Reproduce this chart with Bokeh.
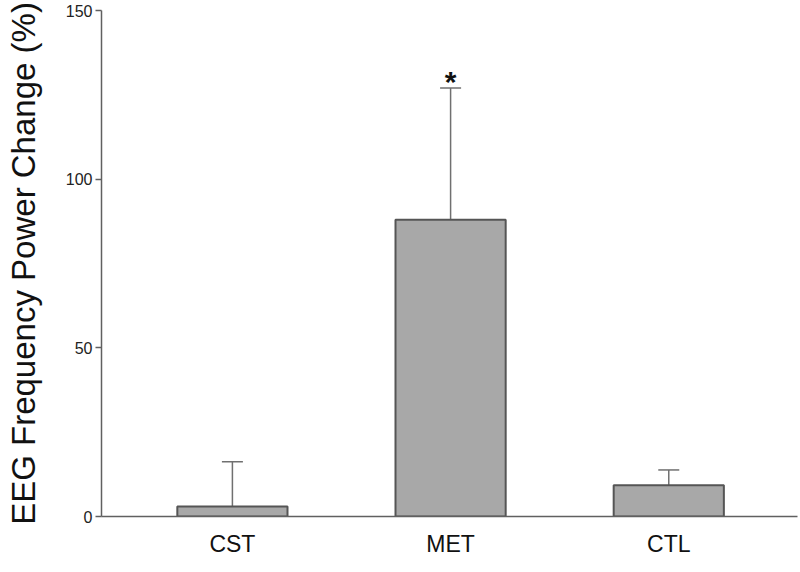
from bokeh.plotting import figure
from bokeh.models import ColumnDataSource, Whisker, TeeHead, FixedTicker, Range1d
from bokeh.core.properties import value
from bokeh.embed import file_html
from bokeh.resources import INLINE

groups = ["CST", "MET", "CTL"]
means = [3.0, 88.0, 9.3]
sem_upper = [16.2, 127.0, 13.8]
significance = ["", "*", ""]
y_ticks = [0, 50, 100, 150]

xpos = [1, 2, 3]
src = ColumnDataSource(dict(x=xpos, top=means, upper=sem_upper, sig=significance))

p = figure(frame_width=696, frame_height=506, min_border_left=101, min_border_right=3,
           min_border_top=10, min_border_bottom=56,
           x_range=Range1d(0.4, 3.59), y_range=Range1d(0, 150),
           output_backend="svg", toolbar_location=None)

p.vbar(x="x", top="top", bottom=0, width=0.505, source=src,
       fill_color="#a8a8a8", line_color="#555555", line_width=2)

w = Whisker(base="x", lower="top", upper="upper", source=src,
            line_color="#707070", line_width=1.5,
            upper_head=TeeHead(size=21, line_color="#707070", line_width=1.5),
            lower_head=None)
p.add_layout(w)

p.text(x="x", y="upper", text="sig", source=src, text_align="center",
       text_baseline="alphabetic", text_font=value("Liberation Sans"),
       text_font_style="bold", text_font_size="30px", text_color="#111111",
       y_offset=-7)

p.grid.visible = False
p.outline_line_color = None

p.yaxis.ticker = FixedTicker(ticks=y_ticks)
p.yaxis.axis_label = "EEG Frequency Power Change (%)"
p.yaxis.axis_label_text_font = "Liberation Sans"
p.yaxis.axis_label_text_font_style = "normal"
p.yaxis.axis_label_text_font_size = "33px"
p.yaxis.axis_label_text_color = "#111111"
p.yaxis.axis_label_standoff = 21
p.yaxis.major_label_text_font = "Liberation Sans"
p.yaxis.major_label_text_font_size = "16px"
p.yaxis.major_label_text_color = "#222222"
p.yaxis.major_label_standoff = 3
p.yaxis.major_tick_out = 6
p.yaxis.major_tick_in = 0
p.yaxis.minor_tick_out = 0
p.yaxis.minor_tick_in = 0
p.yaxis.axis_line_color = "#606060"
p.yaxis.axis_line_width = 1.5
p.yaxis.major_tick_line_color = "#606060"
p.yaxis.major_tick_line_width = 1.5

p.xaxis.ticker = FixedTicker(ticks=xpos)
p.xaxis.major_label_overrides = {x: g for x, g in zip(xpos, groups)}
p.xaxis.major_label_text_font = "Liberation Sans"
p.xaxis.major_label_text_font_size = "23px"
p.xaxis.major_label_text_color = "#111111"
p.xaxis.major_label_standoff = 14
p.xaxis.major_tick_out = 0
p.xaxis.major_tick_in = 0
p.xaxis.minor_tick_out = 0
p.xaxis.minor_tick_in = 0
p.xaxis.axis_line_color = "#606060"
p.xaxis.axis_line_width = 1.5

open("out.html", "w").write(file_html(p, INLINE))
